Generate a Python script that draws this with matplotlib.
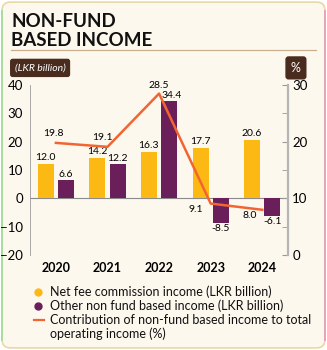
import numpy as np
import matplotlib
matplotlib.use("Agg")
import matplotlib.pyplot as plt
from matplotlib.patches import FancyBboxPatch

plt.rcParams['font.family'] = ['Lato', 'DejaVu Sans']

# ---------------- data ----------------
years = ["2020", "2021", "2022", "2023", "2024"]
net_fee = [12.0, 14.2, 16.3, 17.7, 20.6]
other_income = [6.6, 12.2, 34.4, -8.5, -6.1]
contribution = [19.8, 19.1, 28.5, 9.1, 8.0]

yellow = "#FDB913"
purple = "#6B1F5A"
orange = "#F26531"
bg = "#FDF8EE"
brown = "#4A2C1F"

fig = plt.figure(figsize=(3.27, 3.5), dpi=100)
fig.patch.set_facecolor("white")

# rounded card border (green -> yellow -> pink)
card = FancyBboxPatch((0.006, 0.006), 0.988, 0.988, boxstyle="round,pad=0,rounding_size=0.025",
                      transform=fig.transFigure, facecolor=bg, edgecolor="#E8D8A8", lw=1.2, zorder=-5)
fig.patches.append(card)
fig.add_artist(plt.Line2D([0.006, 0.006], [0.03, 0.97], color="#A8DDA0", lw=1.4,
                          transform=fig.transFigure, zorder=-4))
fig.add_artist(plt.Line2D([0.994, 0.994], [0.03, 0.97], color="#E4A6B8", lw=1.4,
                          transform=fig.transFigure, zorder=-4))

# title
fig.text(0.035, 0.922, "NON-FUND", fontsize=13.5, fontweight="bold", color="#111111", va="baseline")
fig.text(0.035, 0.868, "BASED INCOME", fontsize=13.5, fontweight="bold", color="#111111", va="baseline")
fig.add_artist(plt.Line2D([0.035, 0.965], [0.858, 0.858], color="#C9B08F", lw=0.9, transform=fig.transFigure))

# unit tags
fig.text(0.045, 0.806, "(LKR billion)", fontsize=7.5, style="italic", color="white", va="center", ha="left",
         bbox=dict(boxstyle="round,pad=0.45,rounding_size=0.25", fc=brown, ec="none"))
fig.text(0.905, 0.806, "%", fontsize=9, color="white", va="center", ha="center",
         bbox=dict(boxstyle="round,pad=0.45,rounding_size=0.25", fc=brown, ec="none"))

ax = fig.add_axes([0.092, 0.271, 0.789, 0.486])
ax.set_facecolor("none")
x = np.arange(len(years))
w = 0.31
off = 0.197
ax.bar(x - off, net_fee, w, color=yellow, zorder=2)
ax.bar(x + off, other_income, w, color=purple, zorder=2)
ax.axhline(0, color="#8a8a8a", lw=0.8, zorder=1)
ax.set_xlim(-0.5, 4.5)
ax.set_ylim(-20, 40)
ax.set_yticks([-20, -10, 0, 10, 20, 30, 40])
ax.set_xticks(x)
ax.set_xticklabels(years, fontsize=9, fontweight="bold")
ax.tick_params(axis="x", length=0, pad=5)
ax.tick_params(axis="y", length=0, labelsize=9.5, pad=5)
for s in ["top", "right", "bottom"]:
    ax.spines[s].set_visible(False)
ax.spines["left"].set_color("#9a9a9a")
ax.spines["left"].set_linewidth(0.6)

for i in range(len(years)):
    ax.text(x[i] - off, net_fee[i] + 0.8, f"{net_fee[i]:.1f}", ha="center", va="bottom", fontsize=7.5)
    v = other_income[i]
    if v >= 0:
        ax.text(x[i] + off + (0.04 if i == 2 else 0), v + 0.4, f"{v:.1f}", ha="center", va="bottom", fontsize=7.5)
    else:
        ax.text(x[i] + off, v - 0.6, f"{v:.1f}", ha="center", va="top", fontsize=7.5)

ax2 = ax.twinx()
ax2.set_ylim(0, 30)
ax2.set_yticks([0, 10, 20, 30])
ax2.set_yticks([5, 15, 25], minor=True)
ax2.plot(x, contribution, color=orange, lw=1.8, zorder=3)
ax2.tick_params(axis="y", which="both", direction="in", length=4, color="#9a9a9a", labelsize=9.5, pad=3)
for s in ["top", "left", "bottom"]:
    ax2.spines[s].set_visible(False)
ax2.spines["right"].set_color("#b5b5b5")
ax2.spines["right"].set_linewidth(1.6)

line_offsets = [(-0.05, 0.9, "bottom"), (-0.1, 0.9, "bottom"), (0.0, 0.7, "bottom"),
                (-0.28, -0.3, "top"), (-0.25, -0.3, "top")]
for i, (dx, dy, va) in enumerate(line_offsets):
    ax2.text(x[i] + dx, contribution[i] + dy, f"{contribution[i]:.1f}", ha="center", va=va, fontsize=7.5)

# legend
fs = 9
fig.add_artist(plt.Line2D([0.117], [0.166], marker="o", ms=5, color=yellow, lw=0, transform=fig.transFigure))
fig.text(0.152, 0.166, "Net fee commission income (LKR billion)", fontsize=fs, va="center", color="#111111")
fig.add_artist(plt.Line2D([0.117], [0.126], marker="o", ms=5, color=purple, lw=0, transform=fig.transFigure))
fig.text(0.152, 0.126, "Other non fund based income (LKR billion)", fontsize=fs, va="center", color="#111111")
fig.add_artist(plt.Line2D([0.103, 0.135], [0.086, 0.086], color=orange, lw=1.6, transform=fig.transFigure))
fig.text(0.152, 0.086, "Contribution of non-fund based income to total", fontsize=fs, va="center", color="#111111")
fig.text(0.152, 0.046, "operating income (%)", fontsize=fs, va="center", color="#111111")

fig.savefig("out.png", dpi=100, facecolor="white")
